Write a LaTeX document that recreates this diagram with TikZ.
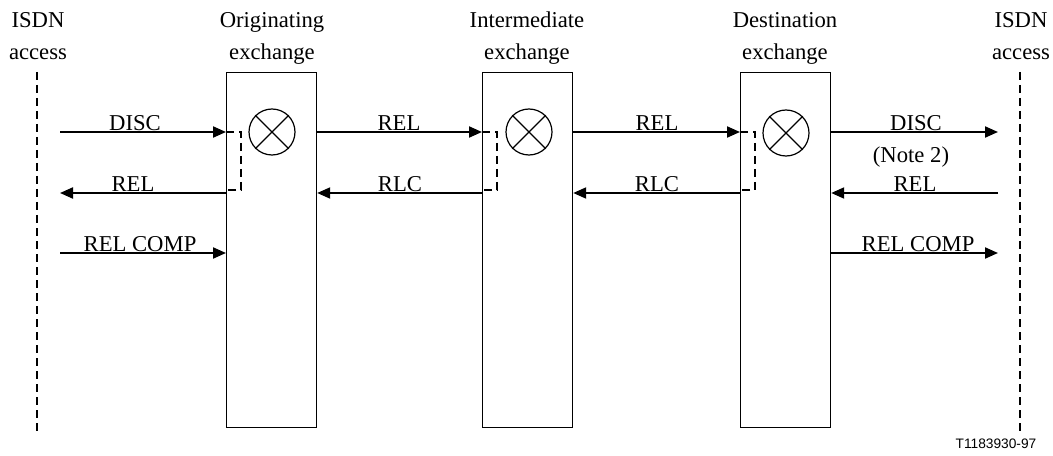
\documentclass[tikz,border=0pt]{standalone}
\usepackage{fontspec}
\setmainfont{Liberation Serif}
\newfontfamily\arialfont{Liberation Sans}
\usetikzlibrary{arrows.meta,calc}
\begin{document}
\begin{tikzpicture}[x=0.75pt,y=-0.75pt,
  txt/.style={font=\fontsize{17}{24}\selectfont, inner sep=0pt, anchor=base},
  hdr/.style={font=\fontsize{17}{24}\selectfont, inner sep=0pt, align=center, anchor=base},
  exch/.style={draw, line width=0.9pt, rectangle, minimum width=67.5pt, minimum height=266pt, inner sep=0pt, anchor=north west},
  msg/.style={line width=1.5pt, -{Triangle[length=9.75pt,width=8.25pt]}},
  access/.style={line width=1.5pt, dash pattern=on 6pt off 3.75pt},
  brk/.style={line width=1.5pt, dash pattern=on 6pt off 3.75pt},
  xor/.style={circle, draw, line width=0.9pt, minimum size=34.5pt, inner sep=0pt}
]
\useasboundingbox (0,0) rectangle (1053,456);

% headers (base = baseline of last line)
\node[hdr] (hA) at (38,60) {ISDN\\access};
\node[hdr] (hO) at (272,60) {Originating\\exchange};
\node[hdr] (hI) at (527,60) {Intermediate\\exchange};
\node[hdr] (hD) at (785,60) {Destination\\exchange};
\node[hdr] (hB) at (1021,60) {ISDN\\access};

% access lines
\coordinate (aTop) at (37,72);
\coordinate (aBot) at (37,434);
\coordinate (bTop) at (1020,72);
\coordinate (bBot) at (1020,434);
\draw[access] (aTop) -- (aBot);
\draw[access] (bTop) -- (bBot);

% exchanges
\node[exch] (ex1) at (226,72) {};
\node[exch] (ex2) at (482,72) {};
\node[exch] (ex3) at (740,72) {};

% symbols
\node[xor] (x1) at (272,132) {};
\node[xor] (x2) at (529,132) {};
\node[xor] (x3) at (786,133) {};
\foreach \n in {x1,x2,x3}{
  \draw[line width=0.9pt] (\n.north west) -- (\n.south east);
  \draw[line width=0.9pt] (\n.north east) -- (\n.south west);
}

% row coordinates
\coordinate (L1) at (60,132);
\coordinate (L2) at (60,193);
\coordinate (L3) at (60,253);
\coordinate (R1) at (998,132);
\coordinate (R2) at (998,193);
\coordinate (R3) at (998,253);

% messages
\draw[msg] (L1) -- (ex1.west |- L1);
\draw[msg] (ex1.west |- L2) -- (L2);
\draw[msg] (L3) -- (ex1.west |- L3);
\draw[msg] (ex1.east |- L1) -- (ex2.west |- L1);
\draw[msg] (ex2.west |- L2) -- (ex1.east |- L2);
\draw[msg] (ex2.east |- L1) -- (ex3.west |- L1);
\draw[msg] (ex3.west |- L2) -- (ex2.east |- L2);
\draw[msg] (ex3.east |- R1) -- (R1);
\draw[msg] (R2) -- (ex3.east |- R2);
\draw[msg] (ex3.east |- R3) -- (R3);

% brackets
\foreach \e in {ex1,ex2,ex3}{
  \draw[brk] (\e.west |- L1) -- ++(15,0) -- ++(0,58) -- ($(\e.west |- L2)+(0,-3)$);
}

% labels
\node[txt] (t1) at (135,130.5) {DISC};
\node[txt] (t2) at (133,191.5) {REL};
\node[txt] (t3) at (140,251.5) {REL COMP};
\node[txt] (t4) at (399,130.5) {REL};
\node[txt] (t5) at (400,191.5) {RLC};
\node[txt] (t6) at (657,130.5) {REL};
\node[txt] (t7) at (657,191.5) {RLC};
\node[txt] (t8) at (916,130.5) {DISC};
\node[txt] (t9) at (911,163) {(Note 2)};
\node[txt] (t10) at (915,191.5) {REL};
\node[txt] (t11) at (918,251.5) {REL COMP};

\node[anchor=base, inner sep=0pt, font=\arialfont\fontsize{10.3}{12}\selectfont] (ref) at (996,448) {T1183930-97};
\end{tikzpicture}
\end{document}
